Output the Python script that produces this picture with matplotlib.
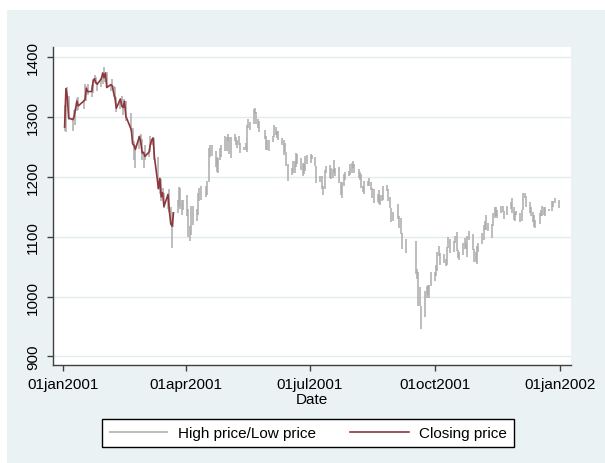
"""
S&P 500 in 2001: daily high/low spikes with the closing price
for the first 57 trading days (Jan 2 - Mar 23).
"""

import pandas as pd
import matplotlib
matplotlib.use("Agg")
import matplotlib.pyplot as plt
import matplotlib.dates as mdates
from matplotlib.patches import Rectangle

# market holidays of 2001 (incl. Sep 11-14 closure)
holidays = ["2001-01-01", "2001-01-15", "2001-02-19", "2001-04-13", "2001-05-28",
            "2001-07-04", "2001-09-03", "2001-09-11", "2001-09-12", "2001-09-13",
            "2001-09-14", "2001-11-22", "2001-12-25"]

# daily highs, month by month
high_jan = [1320, 1348, 1350, 1335, 1298, 1312, 1314, 1332, 1333, 1328, 1355,
            1352, 1355, 1354, 1363, 1370, 1367, 1358, 1366, 1376, 1383]
high_feb = [1376, 1376, 1355, 1363, 1352, 1350, 1333, 1331, 1336, 1321, 1331,
            1327, 1307, 1282, 1260, 1253, 1268, 1272, 1263]
high_mar = [1242, 1253, 1242, 1268, 1263, 1266, 1265, 1233, 1198, 1197, 1182,
            1173, 1172, 1180, 1149, 1123, 1141, 1162, 1183, 1182, 1162, 1162]
high_apr = [1169, 1146, 1118, 1151, 1151, 1146, 1173, 1182, 1184, 1184, 1193,
            1248, 1254, 1253, 1243, 1233, 1232, 1248, 1253, 1269]
high_may = [1267, 1272, 1267, 1267, 1271, 1267, 1261, 1269, 1256, 1250, 1257,
            1286, 1296, 1292, 1313, 1316, 1309, 1296, 1294, 1278, 1268, 1261]
high_jun = [1262, 1268, 1286, 1284, 1277, 1277, 1265, 1261, 1256, 1241, 1221,
            1215, 1227, 1226, 1240, 1238, 1232, 1223, 1222, 1235, 1237]
high_jul = [1239, 1237, 1234, 1219, 1201, 1201, 1185, 1211, 1219, 1220, 1215,
            1214, 1229, 1215, 1216, 1191, 1191, 1205, 1209, 1210, 1222]
high_aug = [1223, 1226, 1221, 1214, 1208, 1205, 1185, 1193, 1193, 1198, 1191,
            1182, 1180, 1172, 1178, 1169, 1169, 1185, 1187, 1180, 1166, 1148, 1141]
high_sep = [1155, 1135, 1131, 1106, 1096, 1092, 1046, 1041, 1016, 984,
            1009, 1017, 1020, 1019, 1041]
high_oct = [1041, 1052, 1075, 1085, 1072, 1071, 1062, 1082, 1099, 1097, 1092,
            1101, 1108, 1078, 1075, 1090, 1098, 1090, 1101, 1110, 1105, 1079, 1075]
high_nov = [1085, 1090, 1106, 1119, 1126, 1136, 1123, 1121, 1140, 1149, 1149,
            1145, 1152, 1152, 1143, 1152, 1158, 1164, 1150, 1141, 1143]
high_dec = [1139, 1145, 1173, 1173, 1168, 1158, 1150, 1141, 1137, 1128, 1139,
            1145, 1152, 1150, 1149, 1147, 1159, 1159, 1165, 1162]

# daily lows, month by month
low_jan = [1276, 1275, 1329, 1295, 1276, 1295, 1287, 1310, 1312, 1313, 1327,
           1327, 1337, 1334, 1340, 1357, 1355, 1343, 1350, 1356, 1364]
low_feb = [1358, 1348, 1344, 1350, 1334, 1331, 1309, 1313, 1317, 1303, 1316,
           1294, 1277, 1253, 1228, 1215, 1246, 1253, 1229]
low_mar = [1215, 1229, 1234, 1242, 1253, 1258, 1229, 1179, 1172, 1159, 1166,
           1148, 1147, 1142, 1119, 1081, 1117, 1139, 1150, 1147, 1136, 1144]
low_apr = [1134, 1100, 1092, 1103, 1120, 1126, 1137, 1160, 1161, 1167, 1170,
           1191, 1233, 1235, 1217, 1208, 1207, 1229, 1234, 1244]
low_may = [1243, 1260, 1239, 1232, 1260, 1254, 1248, 1254, 1240, 1245, 1245,
           1241, 1282, 1279, 1288, 1306, 1288, 1282, 1275, 1264, 1245, 1245]
low_jun = [1243, 1258, 1267, 1270, 1265, 1261, 1253, 1236, 1241, 1218, 1193,
           1203, 1207, 1207, 1217, 1222, 1212, 1202, 1205, 1210, 1222]
low_jul = [1224, 1230, 1219, 1190, 1191, 1180, 1169, 1180, 1207, 1198, 1196,
           1198, 1207, 1202, 1190, 1170, 1165, 1184, 1195, 1201, 1204]
low_aug = [1207, 1215, 1206, 1199, 1195, 1182, 1174, 1172, 1185, 1184, 1178,
           1165, 1156, 1158, 1155, 1153, 1160, 1162, 1176, 1160, 1148, 1124, 1126]
low_sep = [1129, 1114, 1105, 1080, 1073, 1037, 1029, 984, 984, 945,
           966, 998, 1003, 998, 1018]
low_oct = [1026, 1034, 1042, 1068, 1053, 1056, 1051, 1052, 1081, 1072, 1075,
           1090, 1076, 1064, 1061, 1070, 1080, 1079, 1066, 1094, 1078, 1057, 1057]
low_nov = [1054, 1075, 1087, 1095, 1112, 1111, 1110, 1098, 1118, 1132, 1134,
           1131, 1139, 1141, 1129, 1137, 1146, 1140, 1128, 1126, 1136]
low_dec = [1125, 1127, 1144, 1164, 1150, 1139, 1134, 1125, 1117, 1115, 1122,
           1134, 1135, 1137, 1134, 1143, 1143, 1149, 1157, 1148]

# closing price, first 57 trading days
close = [1283.3, 1347.6, 1333.3, 1298.4, 1295.9, 1300.8, 1313.3, 1326.8, 1318.6,
         1326.7, 1329.5, 1348.0, 1342.5, 1342.9, 1360.4, 1364.3, 1357.5, 1355.0,
         1364.2, 1373.7, 1366.0,
         1373.5, 1349.5, 1354.3, 1352.3, 1340.9, 1332.5, 1314.8, 1330.3, 1318.8,
         1315.9, 1326.6, 1301.5, 1278.9, 1255.3, 1252.8, 1245.9, 1267.7, 1257.9,
         1239.9,
         1241.2, 1234.2, 1241.4, 1253.8, 1261.9, 1264.7, 1233.4, 1180.2, 1197.7,
         1166.7, 1173.6, 1150.5, 1170.8, 1142.6, 1122.1, 1117.6, 1139.8]

xtick_dates = ["2001-01-01", "2001-04-01", "2001-07-01", "2001-10-01", "2002-01-01"]
xtick_labels = ["01jan2001", "01apr2001", "01jul2001", "01oct2001", "01jan2002"]
yticks = [900, 1000, 1100, 1200, 1300, 1400]

high = (high_jan + high_feb + high_mar + high_apr + high_may + high_jun +
        high_jul + high_aug + high_sep + high_oct + high_nov + high_dec)
low = (low_jan + low_feb + low_mar + low_apr + low_may + low_jun +
       low_jul + low_aug + low_sep + low_oct + low_nov + low_dec)

dates = pd.bdate_range("2001-01-01", "2001-12-31", freq="C", holidays=holidays)
x = mdates.date2num(dates.to_pydatetime())

plt.rcParams["font.family"] = ["Liberation Sans", "DejaVu Sans"]
W, H = 605, 464
fig = plt.figure(figsize=(W / 100, H / 100), dpi=100, facecolor="white")
# Stata-ish bluish graph region
bg = Rectangle((7 / W, 0), (W - 7) / W, (H - 11) / H,
               transform=fig.transFigure, facecolor="#eaf2f3",
               edgecolor="none", zorder=-10)
fig.add_artist(bg)

ax = fig.add_axes([53.3 / W, 1 - 366 / H, (570.7 - 53.3) / W, (366 - 48.3) / H])
ax.set_zorder(1)
ax.set_facecolor("white")

ax.vlines(x, low, high, color="#ababab", lw=1.1, label="High price/Low price")
ax.plot(x[:len(close)], close, color="#90353b", lw=1.2, label="Closing price")

x0 = mdates.date2num(pd.Timestamp("2001-01-01"))
ax.set_xlim(x0 - 7.3, x0 + 365 + 7.9)
ax.set_ylim(885.5, 1416.7)

ax.set_xticks(mdates.date2num(pd.to_datetime(xtick_dates).to_pydatetime()))
ax.set_xticklabels(xtick_labels, fontsize=11)
ax.set_yticks(yticks)
ax.set_yticklabels([str(v) for v in yticks], fontsize=11, rotation=90, va="center")
ax.tick_params(axis="both", length=4, width=1, color="#404040", direction="out")
ax.tick_params(axis="y", pad=5.5)
ax.tick_params(axis="x", pad=4.5)

ax.grid(axis="y", color="#e3ecec", lw=1)
ax.set_axisbelow(True)
for side in ["top", "right"]:
    ax.spines[side].set_visible(False)
for side in ["left", "bottom"]:
    ax.spines[side].set_color("#404040")
    ax.spines[side].set_linewidth(1)

ax.set_xlabel("Date", fontsize=11, labelpad=1)

leg = fig.legend(loc="center", bbox_to_anchor=(308 / W, 1 - 434 / H),
                 bbox_transform=fig.transFigure, ncol=2, fontsize=11,
                 frameon=True, fancybox=False, edgecolor="black",
                 facecolor="white", framealpha=1, handlelength=3.9,
                 handletextpad=0.65, columnspacing=2.2, borderpad=0.45)
leg.get_frame().set_linewidth(1)
leg.set_zorder(2)

fig.savefig("out.png", dpi=100, facecolor=fig.get_facecolor())
